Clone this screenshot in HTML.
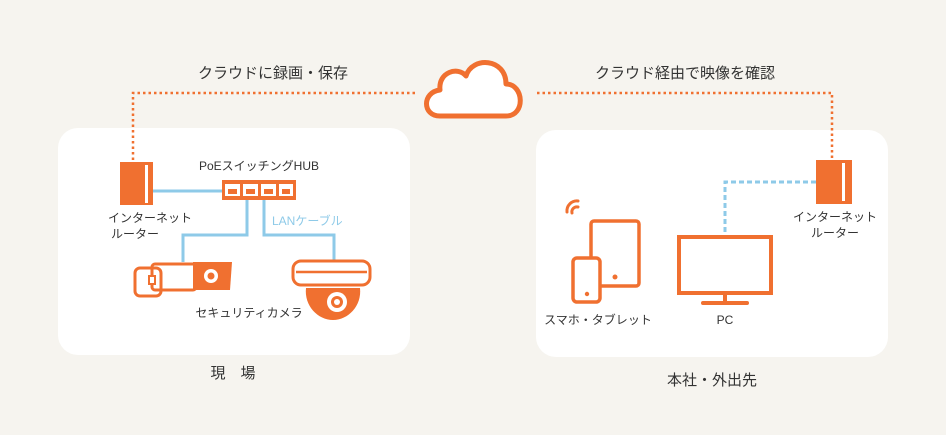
<!DOCTYPE html>
<html><head><meta charset="utf-8"><style>
html,body{margin:0;padding:0;background:#f6f4ef;}
svg{display:block;}
text{font-family:"Liberation Sans","Noto Sans CJK JP",sans-serif;fill:#333;}
</style></head><body>
<svg width="946" height="435" viewBox="0 0 946 435" xmlns="http://www.w3.org/2000/svg">
<rect width="946" height="435" fill="#f6f4ef"/>
<rect x="58" y="128" width="352" height="227" rx="20" fill="#fff"/>
<rect x="536" y="130" width="352" height="227" rx="20" fill="#fff"/>
<!-- dotted lines -->
<g stroke="#f07030" stroke-width="2.5" stroke-dasharray="2.5 3" fill="none">
<path d="M133 160 V93 H415"/>
<path d="M537 93 H832 V158"/>
</g>
<!-- cloud -->
<path d="M440 116 C422 116 422 92 440 90 C438 72 458 66 466 76 C472 56 506 58 506 84 C524 84 526 116 506 116 Z" fill="#fff" stroke="#f07030" stroke-width="5" stroke-linejoin="round"/>
<text x="273" y="78" font-size="15" text-anchor="middle">クラウドに録画・保存</text>
<text x="685" y="78" font-size="15" text-anchor="middle">クラウド経由で映像を確認</text>
<!-- left router -->
<rect x="120" y="162" width="33" height="43" fill="#f07030"/>
<rect x="145" y="165" width="3" height="38" fill="#fff"/>
<text x="150" y="222" font-size="12" text-anchor="middle">インターネット</text>
<text x="135" y="238" font-size="12" text-anchor="middle">ルーター</text>
<!-- blue lines -->
<g stroke="#8ecae8" stroke-width="3" fill="none">
<path d="M153 191 H222"/>
<path d="M247 200 V235 H183 V262"/>
<path d="M264 200 V235 H334 V260"/>
</g>
<!-- hub -->
<rect x="222" y="180" width="74" height="20" fill="#f07030"/>
<g fill="#fff">
<rect x="225" y="184" width="15" height="12"/><rect x="243" y="184" width="15" height="12"/><rect x="261" y="184" width="15" height="12"/><rect x="279" y="184" width="14" height="12"/>
</g>
<g fill="#f07030"><rect x="228" y="189" width="9" height="5"/><rect x="246" y="189" width="9" height="5"/><rect x="264" y="189" width="9" height="5"/><rect x="282" y="189" width="8" height="5"/></g>
<text x="259" y="170" font-size="12" text-anchor="middle">PoEスイッチングHUB</text>
<text x="272" y="225" font-size="12" fill="#8ecae8" style="fill:#8ecae8">LANケーブル</text>
<!-- bullet camera -->
<g fill="none" stroke="#f07030" stroke-width="3">
<rect x="135" y="268" width="26" height="28" rx="5"/>
<rect x="152" y="264" width="44" height="26" rx="3"/>
</g>
<rect x="149" y="276" width="6" height="8" fill="#fff" stroke="#f07030" stroke-width="2"/>
<path d="M193 262 H232 L230 290 H193 Z" fill="#f07030"/>
<circle cx="211" cy="276" r="7" fill="#fff"/><circle cx="211" cy="276" r="3.5" fill="#f07030"/>
<!-- dome camera -->
<path d="M306 288 H360 C362 306 348 320 333 320 C318 320 304 306 306 288 Z" fill="#f07030"/>
<rect x="293" y="261" width="77" height="24" rx="8" fill="#fff" stroke="#f07030" stroke-width="3"/>
<path d="M296 272 H367" stroke="#f07030" stroke-width="2.5"/>
<circle cx="337" cy="302" r="10" fill="#fff"/><circle cx="337" cy="302" r="6" fill="#f07030"/><circle cx="337" cy="302" r="3" fill="#fff"/>
<text x="249" y="317" font-size="12" text-anchor="middle">セキュリティカメラ</text>
<text x="233" y="378" font-size="15" text-anchor="middle">現　場</text>
<!-- right router -->
<rect x="816" y="160" width="36" height="44" fill="#f07030"/>
<rect x="842" y="163" width="3" height="38" fill="#fff"/>
<text x="835" y="221" font-size="12" text-anchor="middle">インターネット</text>
<text x="835" y="237" font-size="12" text-anchor="middle">ルーター</text>
<path d="M816 182 H725 V235" stroke="#8ecae8" stroke-width="3" stroke-dasharray="5 3" fill="none"/>
<!-- PC -->
<rect x="679" y="237" width="92" height="56" fill="none" stroke="#f07030" stroke-width="4"/>
<rect x="723" y="293" width="4" height="10" fill="#f07030"/>
<rect x="701" y="301" width="48" height="4" rx="2" fill="#f07030"/>
<text x="725" y="324" font-size="12" text-anchor="middle">PC</text>
<!-- tablet & phone -->
<rect x="591" y="221" width="48" height="65" rx="3" fill="none" stroke="#f07030" stroke-width="3.5"/>
<circle cx="615" cy="277" r="2.5" fill="#f07030"/>
<rect x="573" y="258" width="27" height="44" rx="4" fill="#fff" stroke="#f07030" stroke-width="3.5"/>
<circle cx="587" cy="294" r="2.2" fill="#f07030"/>
<path d="M567 212 A10 10 0 0 1 578 201" stroke="#f07030" stroke-width="3" fill="none" stroke-linecap="round"/>
<path d="M572 213 A5 5 0 0 1 578 207" stroke="#f07030" stroke-width="3" fill="none" stroke-linecap="round"/>
<text x="598" y="324" font-size="12" text-anchor="middle">スマホ・タブレット</text>
<text x="712" y="385" font-size="15" text-anchor="middle">本社・外出先</text>
</svg>
</body></html>
